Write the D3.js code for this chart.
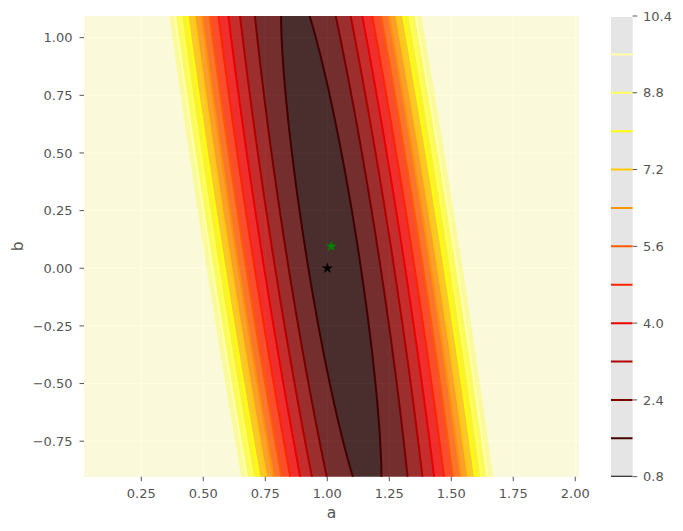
<!DOCTYPE html>
<html>
<head>
<meta charset="utf-8">
<script src="https://cdn.jsdelivr.net/npm/d3@7"></script>
<style>
  body { margin: 0; background: #ffffff; }
  text { font-family: "DejaVu Sans", sans-serif; fill: #555555; }
</style>
</head>
<body>
<div id="chart"></div>
<script>
// Chart values
var lineLevels = [0.8, 1.6, 2.4, 3.2, 4.0, 4.8, 5.6, 6.4, 7.2, 8.0, 8.8, 9.6, 10.4];
var colorbarTicks = [0.8, 2.4, 4.0, 5.6, 7.2, 8.8, 10.4];
var aTicks = [0.25, 0.50, 0.75, 1.00, 1.25, 1.50, 1.75, 2.00];
var bTicks = [-0.75, -0.50, -0.25, 0.00, 0.25, 0.50, 0.75, 1.00];
var aRange = [0.019, 2.015];
var bRange = [-0.904, 1.094];

// Loss surface (mean squared error of y = a*x + b), estimated from the contours
var fitA = 1.016;
var fitB = 0.095;
var lossAtFit = 1.21;
var meanX = 5.0;
var meanX2 = 34.5;

// Star markers: true parameters and fitted parameters
var starA = [1.0, 1.016];
var starB = [0.0, 0.095];

// svg defs
var svgWidth = 683;
var svgHeight = 531;
var plot = { left: 84, right: 579, top: 16, bottom: 476.7 };
var cbar = { left: 611, right: 632.7 };

var svg = d3.select("#chart")
  .append("svg")
  .attr("width", svgWidth)
  .attr("height", svgHeight);

var x = d3.scaleLinear().domain(aRange).range([plot.left, plot.right]);
var y = d3.scaleLinear().domain(bRange).range([plot.bottom, plot.top]);

// matplotlib "hot" colormap
function hot(t) {
  t = Math.max(0, Math.min(1, t));
  var r = Math.min(1, 0.0416 + t * (1 - 0.0416) / 0.365079);
  var g = Math.max(0, Math.min(1, (t - 0.365079) / (0.746032 - 0.365079)));
  var b = Math.max(0, Math.min(1, (t - 0.746032) / (1 - 0.746032)));
  return d3.rgb(r * 255, g * 255, b * 255).formatHex();
}

function loss(a, b) {
  var da = a - fitA, db = b - fitB;
  return lossAtFit + meanX2 * da * da + 2 * meanX * da * db + db * db;
}

var defs = svg.append("defs");
defs.append("clipPath").attr("id", "plotClip")
  .append("rect")
  .attr("x", plot.left).attr("y", plot.top)
  .attr("width", plot.right - plot.left)
  .attr("height", plot.bottom - plot.top);
defs.append("clipPath").attr("id", "cbarClip")
  .append("rect")
  .attr("x", cbar.left).attr("y", plot.top)
  .attr("width", cbar.right - cbar.left)
  .attr("height", plot.bottom - plot.top);

// Background and grid
svg.append("rect")
  .attr("x", plot.left).attr("y", plot.top)
  .attr("width", plot.right - plot.left)
  .attr("height", plot.bottom - plot.top)
  .attr("fill", "#E5E5E5");

var grid = svg.append("g").attr("stroke", "#ffffff").attr("stroke-width", 1);
grid.selectAll(".vgrid").data(aTicks).enter().append("line")
  .attr("x1", d => x(d)).attr("x2", d => x(d))
  .attr("y1", plot.top).attr("y2", plot.bottom);
grid.selectAll(".hgrid").data(bTicks).enter().append("line")
  .attr("y1", d => y(d)).attr("y2", d => y(d))
  .attr("x1", plot.left).attr("x2", plot.right);

// Sample the loss on a grid a little larger than the plot
var pad = 6;
var nx = 260, ny = 240;
var x0 = plot.left - pad, y0 = plot.top - pad;
var cw = (plot.right - plot.left + 2 * pad) / nx;
var ch = (plot.bottom - plot.top + 2 * pad) / ny;
var values = new Array(nx * ny);
for (var j = 0; j < ny; j++) {
  var bv = y.invert(y0 + (j + 0.5) * ch);
  for (var i = 0; i < nx; i++) {
    values[j * nx + i] = loss(x.invert(x0 + (i + 0.5) * cw), bv);
  }
}

var path = d3.geoPath(d3.geoTransform({
  point: function(px, py) { this.stream.point(x0 + px * cw, y0 + py * ch); }
}));

var contours = d3.contours().size([nx, ny]).thresholds(lineLevels)(values);

// Filled bands (alpha 0.8)
svg.append("g")
  .attr("clip-path", "url(#plotClip)")
  .attr("opacity", 0.8)
  .selectAll("path")
  .data(contours)
  .enter()
  .append("path")
  .attr("d", path)
  .attr("fill", (d, i) => hot((i + 0.5) / lineLevels.length));

// Contour lines (the top level has no visible line in the plot)
var lo = lineLevels[0], hi = lineLevels[lineLevels.length - 1];
svg.append("g")
  .attr("clip-path", "url(#plotClip)")
  .selectAll("path")
  .data(contours.filter(d => d.value < hi))
  .enter()
  .append("path")
  .attr("d", path)
  .attr("fill", "none")
  .attr("stroke", d => hot((d.value - lo) / (hi - lo)))
  .attr("stroke-width", 2);

// Stars
var symbol = d3.symbol().type(d3.symbolStar).size(40);
svg.append("g").selectAll("path")
  .data(starA)
  .enter()
  .append("path")
  .attr("d", symbol)
  .attr("transform", (d, i) => `translate(${x(d)}, ${y(starB[i])})`)
  .attr("fill", (d, i) => i === 0 ? "#000000" : "#008000");

// Axes ticks and labels
var fmt2 = d3.format(".2f");
var xt = svg.append("g");
xt.selectAll("line").data(aTicks).enter().append("line")
  .attr("x1", d => x(d)).attr("x2", d => x(d))
  .attr("y1", plot.bottom).attr("y2", plot.bottom + 4.5)
  .attr("stroke", "#555555").attr("stroke-width", 1);
xt.selectAll("text").data(aTicks).enter().append("text")
  .attr("x", d => x(d)).attr("y", 497.5)
  .attr("text-anchor", "middle")
  .style("font-size", "13px")
  .text(d => fmt2(d));

var yt = svg.append("g");
yt.selectAll("line").data(bTicks).enter().append("line")
  .attr("y1", d => y(d)).attr("y2", d => y(d))
  .attr("x1", plot.left - 4.5).attr("x2", plot.left)
  .attr("stroke", "#555555").attr("stroke-width", 1);
yt.selectAll("text").data(bTicks).enter().append("text")
  .attr("x", 72.5).attr("y", d => y(d))
  .attr("dy", "0.36em")
  .attr("text-anchor", "end")
  .style("font-size", "13px")
  .text(d => fmt2(d));

svg.append("text")
  .attr("x", (plot.left + plot.right) / 2).attr("y", 518)
  .attr("text-anchor", "middle")
  .style("font-size", "15.6px")
  .text("a");

svg.append("text")
  .attr("transform", `translate(23.3, ${(plot.top + plot.bottom) / 2}) rotate(-90)`)
  .attr("text-anchor", "middle")
  .style("font-size", "15.6px")
  .text("b");

// Colorbar for the contour lines
var cy = d3.scaleLinear().domain([lo, hi]).range([plot.bottom, plot.top]);
svg.append("rect")
  .attr("x", cbar.left).attr("y", plot.top)
  .attr("width", cbar.right - cbar.left)
  .attr("height", plot.bottom - plot.top)
  .attr("fill", "#E5E5E5");
svg.append("g")
  .attr("clip-path", "url(#cbarClip)")
  .selectAll("line")
  .data(lineLevels)
  .enter()
  .append("line")
  .attr("x1", cbar.left).attr("x2", cbar.right)
  .attr("y1", d => cy(d)).attr("y2", d => cy(d))
  .attr("stroke", d => hot((d - lo) / (hi - lo)))
  .attr("stroke-width", 2);

var fmt1 = d3.format(".1f");
var ct = svg.append("g");
ct.selectAll("line").data(colorbarTicks).enter().append("line")
  .attr("x1", cbar.right).attr("x2", cbar.right + 4.5)
  .attr("y1", d => cy(d)).attr("y2", d => cy(d))
  .attr("stroke", "#555555").attr("stroke-width", 1);
ct.selectAll("text").data(colorbarTicks).enter().append("text")
  .attr("x", 643).attr("y", d => cy(d))
  .attr("dy", "0.36em")
  .style("font-size", "13px")
  .text(d => fmt1(d));
</script>
</body>
</html>
